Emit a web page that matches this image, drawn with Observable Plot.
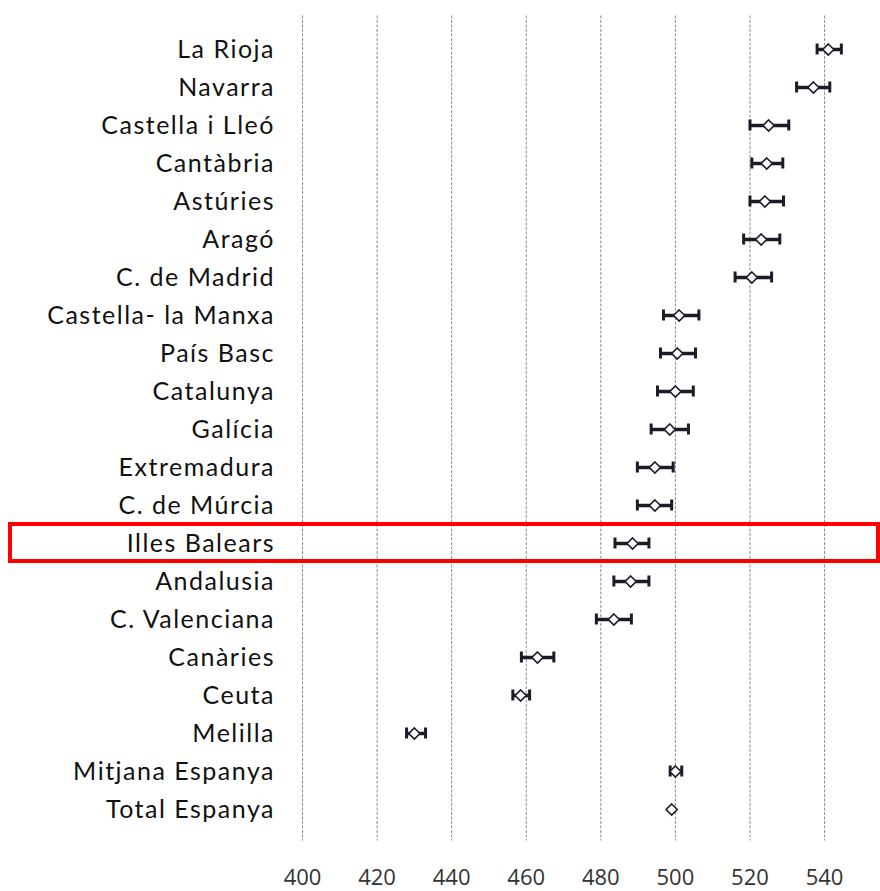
<!DOCTYPE html>
<html>
<head>
<meta charset="utf-8">
<script src="https://cdn.jsdelivr.net/npm/d3@7"></script>
<script src="https://cdn.jsdelivr.net/npm/@observablehq/plot@0.6"></script>
<style>
  html, body { margin: 0; padding: 0; background: #fff; }
  #chart svg { display: block; overflow: visible; }
  #chart [aria-label="y-axis tick label"] text { letter-spacing: 1.5px; }
</style>
</head>
<body>
<div id="chart"></div>
<script>
const regions = ["La Rioja","Navarra","Castella i Lleó","Cantàbria","Astúries","Aragó","C. de Madrid","Castella- la Manxa","País Basc","Catalunya","Galícia","Extremadura","C. de Múrcia","Illes Balears","Andalusia","C. Valenciana","Canàries","Ceuta","Melilla","Mitjana Espanya","Total Espanya"];
const meanScore = [541, 537, 525, 524.5, 524, 523, 520.5, 501, 500.5, 500, 498.5, 494.5, 494.5, 488.5, 488, 483.5, 463, 458.5, 430, 500, 499];
const lowerCI  = [538, 532.5, 520, 520.5, 520, 518.3, 516, 496.8, 496, 495.2, 493.5, 489.8, 489.8, 483.8, 483.5, 478.8, 458.7, 456.4, 427.9, 498.6, null];
const upperCI  = [544.5, 541.4, 530.4, 528.8, 529, 528, 525.8, 506.3, 505.4, 504.8, 503.5, 499.4, 499, 492.9, 492.9, 488.2, 467.4, 460.9, 433, 501.7, null];
const xTicks = [400, 420, 440, 460, 480, 500, 520, 540];
const xDomain = [400, 555];
const highlight = ["Illes Balears"];

const rows = regions.map((r, i) => ({region: r, mean: meanScore[i], lo: lowerCI[i], hi: upperCI[i]}));
const bars = rows.filter(d => d.lo != null && d.hi != null);

const marginLeft = 302;
const ink = "#1c1c28";

const plot = Plot.plot({
  width: 880,
  height: 891,
  marginLeft,
  marginRight: 0,
  marginTop: 20.5,
  marginBottom: 53.5,
  style: {fontFamily: "Lato, sans-serif", background: "#fff", overflow: "visible"},
  x: {domain: xDomain, ticks: xTicks},
  y: {domain: regions, type: "band", padding: 0},
  marks: [
    Plot.ruleX(xTicks, {stroke: "#8c8c8c", strokeWidth: 1, strokeDasharray: "3,1.5", insetTop: -5, insetBottom: -3}),
    Plot.axisX({ticks: xTicks, tickSize: 0, tickPadding: 31, fontSize: 22, fontFamily: "Open Sans", color: "#333", label: null}),
    Plot.axisY({tickSize: 0, tickPadding: 27.5, fontSize: 25, color: "#111", label: null}),
    Plot.barX(highlight, {y: d => d, x1: xDomain[0], x2: xDomain[1], fill: "none", stroke: "#ff0000", strokeWidth: 4, insetLeft: -(marginLeft - 10), insetRight: 2, insetBottom: 1}),
    Plot.ruleY(bars, {y: "region", x1: "lo", x2: "hi", stroke: ink, strokeWidth: 3.5}),
    Plot.tickX(bars, {y: "region", x: "lo", stroke: ink, strokeWidth: 3, insetTop: 13.5, insetBottom: 13.5}),
    Plot.tickX(bars, {y: "region", x: "hi", stroke: ink, strokeWidth: 3, insetTop: 13.5, insetBottom: 13.5}),
    Plot.dot(rows, {y: "region", x: "mean", symbol: "diamond2", r: 5, fill: "#fff", stroke: ink, strokeWidth: 1.6})
  ]
});
document.getElementById("chart").appendChild(plot);
</script>
</body>
</html>
